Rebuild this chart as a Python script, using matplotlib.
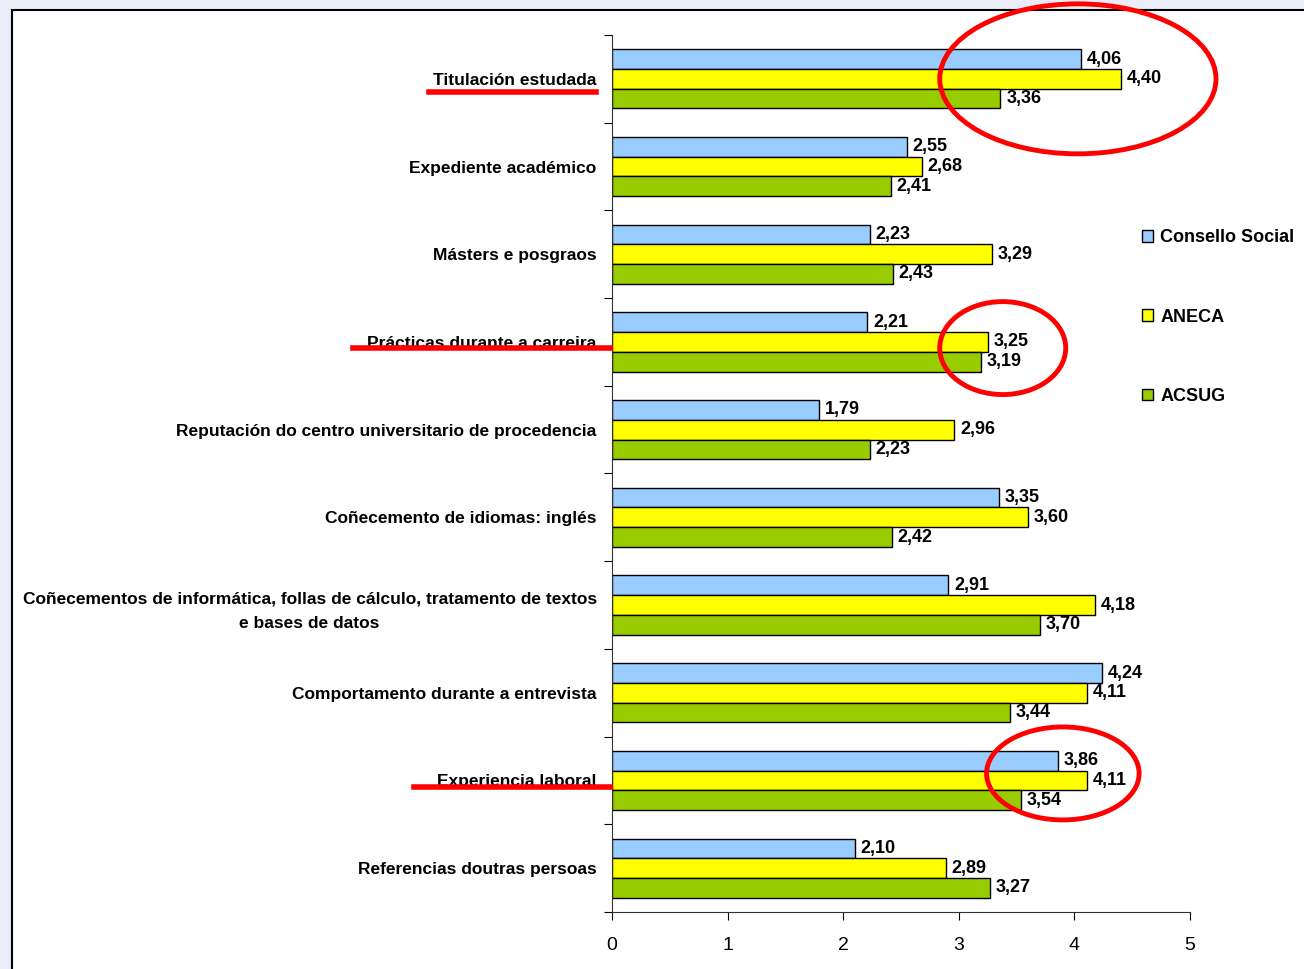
import numpy as np
import matplotlib
matplotlib.use("Agg")
import matplotlib.pyplot as plt
from matplotlib.patches import Ellipse, Rectangle
from matplotlib.lines import Line2D

plt.rcParams['font.family'] = ['Liberation Sans', 'DejaVu Sans']

# datos
categorias = [
    "Titulación estudada",
    "Expediente académico",
    "Másters e posgraos",
    "Prácticas durante a carreira",
    "Reputación do centro universitario de procedencia",
    "Coñecemento de idiomas: inglés",
    "Coñecementos de informática, follas de cálculo, tratamento de textos\ne bases de datos",
    "Comportamento durante a entrevista",
    "Experiencia laboral",
    "Referencias doutras persoas",
]
consello_social = [4.06, 2.55, 2.23, 2.21, 1.79, 3.35, 2.91, 4.24, 3.86, 2.10]
aneca = [4.40, 2.68, 3.29, 3.25, 2.96, 3.60, 4.18, 4.11, 4.11, 2.89]
acsug = [3.36, 2.41, 2.43, 3.19, 2.23, 2.42, 3.70, 3.44, 3.54, 3.27]
series = ["Consello Social", "ANECA", "ACSUG"]
cores = ["#99CCFF", "#FFFF00", "#99CC00"]

W, H = 1304, 969
fig = plt.figure(figsize=(W / 100, H / 100), dpi=100)
fig.patch.set_facecolor("#EAECF7")

# recadro branco
fig.add_artist(Rectangle((12 / W, -0.1), 1.2, 1 - 10 / H + 0.1, transform=fig.transFigure,
                         facecolor="white", edgecolor="black", lw=1.5, zorder=0))

ax = fig.add_axes([612 / W, 1 - 912 / H, (1190 - 612) / W, (912 - 35) / H])
ax.set_facecolor("none")

n = len(categorias)
y = np.arange(n)
h = 0.225
valores = [consello_social, aneca, acsug]
for i, (vals, cor, nome) in enumerate(zip(valores, cores, series)):
    pos = y + (i - 1) * h
    ax.barh(pos, vals, height=h, color=cor, edgecolor="black", linewidth=1, label=nome)
    for p, v in zip(pos, vals):
        ax.text(v + 0.05, p, "{:.2f}".format(v).replace(".", ","), va="center", ha="left",
                fontsize=13, fontweight="bold")

ax.set_xlim(0, 5)
ax.set_ylim(n - 0.5, -0.5)
ax.set_xticks(range(6))
ax.tick_params(axis="x", labelsize=14, length=6, direction="out", pad=12)
ax.set_yticks(np.arange(n + 1) - 0.5)
ax.set_yticklabels([])
ax.tick_params(axis="y", length=6, direction="out")
ax.set_yticks(y, minor=True)
ax.set_yticklabels(categorias, minor=True, fontsize=12.5, fontweight="bold", ha="right")
ax.tick_params(axis="y", which="minor", length=0, pad=11)
for lab in ax.get_yticklabels(minor=True):
    lab.set_multialignment("center")
    lab.set_linespacing(1.75)
ax.spines["top"].set_visible(False)
ax.spines["right"].set_visible(False)
ax.spines["left"].set_color("#333333")
ax.spines["bottom"].set_color("#333333")

leg = ax.legend(loc="upper left", bbox_to_anchor=(1135 / W, 1 - 222 / H), bbox_transform=fig.transFigure,
                frameon=False, fontsize=13, handlelength=0.6, handleheight=0.6, handletextpad=0.4,
                labelspacing=3.45, borderaxespad=0)
for t in leg.get_texts():
    t.set_fontweight("bold")

# marcas vermellas
elipses = [(4.03, 0.0, 2.39, 1.71), (3.38, 3.07, 1.09, 1.06), (3.90, 7.92, 1.32, 1.06)]
for cx, cy, ew, eh in elipses:
    ax.add_patch(Ellipse((cx, cy), ew, eh, fill=False, edgecolor="#FF0000", lw=3.5, clip_on=False, zorder=5))

subliñados = [(429, 596, 92), (353, 610, 348), (414, 610, 787)]
for x0, x1, yy in subliñados:
    fig.add_artist(Line2D([x0 / W, x1 / W], [1 - yy / H, 1 - yy / H], color="#FF0000", lw=4, zorder=5))

fig.savefig("out.png", dpi=100, facecolor=fig.get_facecolor())
